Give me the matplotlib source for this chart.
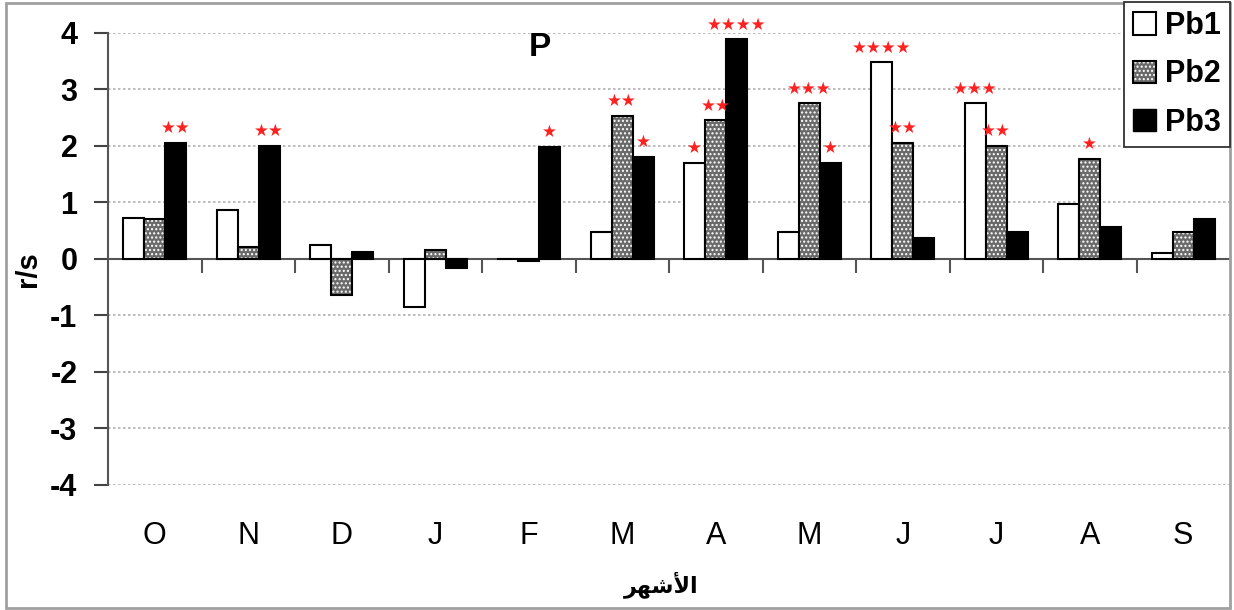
import numpy as np
import matplotlib.pyplot as plt
from matplotlib.patches import Patch, Rectangle

# months (Oct -> Sep)
months = ['O', 'N', 'D', 'J', 'F', 'M', 'A', 'M', 'J', 'J', 'A', 'S']

# r/s values
pb1 = [0.72, 0.87, 0.25, -0.85, 0.0, 0.48, 1.70, 0.48, 3.48, 2.75, 0.97, 0.11]
pb2 = [0.70, 0.21, -0.64, 0.15, -0.03, 2.53, 2.45, 2.75, 2.05, 2.00, 1.77, 0.47]
pb3 = [2.05, 2.00, 0.12, -0.17, 1.98, 1.81, 3.88, 1.70, 0.37, 0.48, 0.57, 0.71]

# significance stars
sig1 = ['', '', '', '', '', '', '*', '', '****', '***', '', '']
sig2 = ['', '', '', '', '', '**', '**', '***', '**', '**', '*', '']
sig3 = ['**', '**', '', '', '*', '*', '****', '*', '', '', '', '']

plt.rcParams['font.family'] = ['Liberation Sans', 'DejaVu Sans']

fig = plt.figure(figsize=(12.34, 6.10), dpi=100)
ax = fig.add_axes([108 / 1234, 1 - 485 / 610, 1122 / 1234, 452.3 / 610])

x = np.arange(len(months))
w = 0.225

b1 = ax.bar(x - w, pb1, w, color='white', edgecolor='black', linewidth=1.5, zorder=3)
b2h = ax.bar(x, pb2, w, color='#6a6a6a', edgecolor='white', hatch='....', linewidth=0, zorder=3)
b2 = ax.bar(x, pb2, w, fill=False, edgecolor='black', linewidth=1.5, zorder=4)
b3 = ax.bar(x + w, pb3, w, color='black', edgecolor='black', linewidth=1.5, zorder=3)

# stars above bars
for off, vals, sig in [(-w, pb1, sig1), (0, pb2, sig2), (w, pb3, sig3)]:
    for i, (v, s) in enumerate(zip(vals, sig)):
        if s:
            ax.annotate('\u2605' * len(s), (x[i] + off, max(v, 0)), xytext=(0, 4),
                        textcoords='offset points', ha='center', va='bottom',
                        color='#ff2020', fontsize=12, family='DejaVu Sans', zorder=5)

ax.set_xlim(-0.5, len(months) - 0.5)
ax.set_ylim(-4, 4)
ax.set_yticks(range(-4, 5))
ax.set_yticklabels([str(t) for t in range(-4, 5)], fontsize=22, fontweight='bold')
ax.tick_params(axis='y', direction='out', length=10, width=1.5, color='#444444', pad=12)

# x axis at zero with ticks between groups
ax.spines['bottom'].set_position(('data', 0))
ax.spines['bottom'].set_color('#555555')
ax.spines['bottom'].set_linewidth(1.5)
ax.spines['left'].set_color('#555555')
ax.spines['left'].set_linewidth(1.5)
ax.spines['top'].set_visible(False)
ax.spines['right'].set_visible(False)
ax.set_xticks(np.arange(0.5, len(months) - 0.5))
ax.set_xticklabels([])
ax.tick_params(axis='x', direction='out', length=10, width=1.5, color='#555555')

for i, m in enumerate(months):
    ax.text(x[i], -0.113, m, transform=ax.get_xaxis_transform(), ha='center', va='center',
            fontsize=22)

for t in range(-4, 5):
    if t != 0:
        ax.axhline(t, color='#b0b0b0', linestyle=(0, (1.5, 1.5)), linewidth=1.2, zorder=1)

fig.text(28 / 1234, 1 - 269 / 610, 'r/s', rotation=90, ha='center', va='center',
         fontsize=21, fontweight='bold')
ax.text(0.385, 0.968, 'P', transform=ax.transAxes, ha='center', va='center',
        fontsize=24, fontweight='bold')

# Arabic axis title (pre-shaped presentation forms, visual order)
fig.text(661 / 1234, 1 - 585 / 610, '\ufeae\ufeec\ufeb7\ufef7\ufe8d', ha='center', va='center',
         fontsize=16, fontweight='bold', family='DejaVu Sans')

h1 = Patch(facecolor='white', edgecolor='black', linewidth=1.5)
h2a = Patch(facecolor='#6a6a6a', edgecolor='white', hatch='....', linewidth=0)
h2b = Patch(fill=False, edgecolor='black', linewidth=1.5)
h3 = Patch(facecolor='black', edgecolor='black')
leg = fig.legend([h1, (h2a, h2b), h3], ['Pb1', 'Pb2', 'Pb3'], loc='upper right',
                 bbox_to_anchor=(1230 / 1234, 1 - 2 / 610), borderaxespad=0, fancybox=False,
                 edgecolor='#333333', framealpha=1, handlelength=0.75, handleheight=0.75,
                 handletextpad=0.3, labelspacing=0.6, borderpad=0.3,
                 prop={'size': 22, 'weight': 'bold'})
leg.get_frame().set_linewidth(1.3)

# outer frame
fig.patches.append(Rectangle((6 / 1234, 2 / 610), 1224 / 1234, 605 / 610, transform=fig.transFigure,
                             fill=False, edgecolor='#a0a0a0', linewidth=2))

fig.savefig('out.png', dpi=100)
